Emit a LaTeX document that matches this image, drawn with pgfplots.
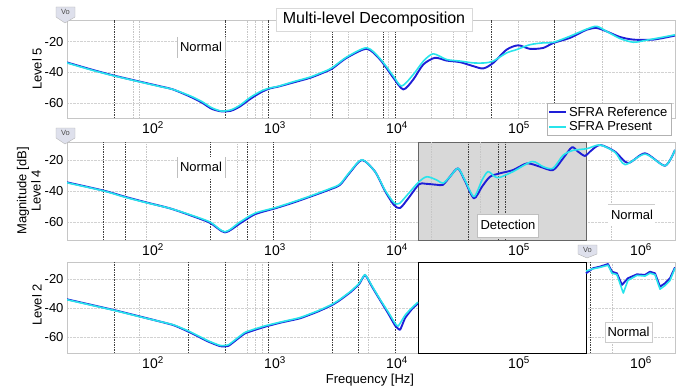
\documentclass[border=0pt]{standalone}
\usepackage{fontspec}
\setmainfont{Liberation Sans}
\usepackage{pgfplots}
\pgfplotsset{compat=1.18}

\definecolor{refblue}{RGB}{30,30,215}
\definecolor{prescyan}{RGB}{40,228,235}
\definecolor{tagfill}{RGB}{222,224,236}
\definecolor{detgray}{RGB}{216,216,216}

\tikzset{
  darkv/.style={black!75, line width=0.5pt, dash pattern=on 1.5pt off 1pt},
  lightv/.style={gray!45, line width=0.5pt, dash pattern=on 1.5pt off 1pt},
}
\newcommand{\vlines}[2]{\pgfplotsinvokeforeach{#2}{\draw[#1] ({axis cs:##1,0}|-{rel axis cs:0,0}) -- ({axis cs:##1,0}|-{rel axis cs:0,1});}}

\pgfplotsset{
  panel/.style={
    scale only axis, width=608pt, xmin=1.295, xmax=6.279,
    xtick={2,3,4,5,6},
    xticklabels={10\textsuperscript{2},10\textsuperscript{3},10\textsuperscript{4},10\textsuperscript{5},10\textsuperscript{6}},
    ytick={-60,-40,-20},
    major tick length=0pt,
    axis line style={gray!45},
    ymajorgrids, grid style={gray!35, densely dotted},
    yticklabel style={font=\fontsize{13}{13}\selectfont},
    xticklabel style={font=\fontsize{14}{14}\selectfont},
    /pgf/number format/assume math mode=true,
    anchor=south west,
  },
  refp/.style={refblue, line width=1.9pt, line join=round, smooth, tension=0.45},
  presp/.style={prescyan, line width=1.6pt, line join=round, smooth, tension=0.45},
}

\begin{document}
\begin{tikzpicture}[x=1pt,y=1pt]
\useasboundingbox (0,0) rectangle (679,389);

% ---------------- Level 5 ----------------
\begin{axis}[panel, at={(67pt,271pt)}, height=98pt, ymin=-69.5, ymax=-6,
  xticklabels={10\textsuperscript{2},10\textsuperscript{3},10\textsuperscript{4},10\textsuperscript{5},{}},
  legend style={at={(0.789,0.153)}, anchor=north west, draw=gray!60, fill=white,
    font=\fontsize{13}{13}\selectfont, inner sep=1.5pt, row sep=0pt, cells={anchor=west}},
  legend image code/.code={\draw[#1, line width=1.6pt] (0pt,0pt) -- (17pt,0pt);}]
\vlines{lightv}{1.836,1.885,2.77,2.836,2.893,3.287,3.6,3.76,3.93,4.284,4.459,4.57,4.992,5.459,5.686,5.984}
\vlines{darkv}{1.68,2.59,2.943,3.467,3.885,3.984,4.77,5.287}
\addplot[refp] coordinates {
(1.295,-33.5) (1.5,-38.2) (1.68,-42) (1.885,-45.8) (2.05,-48.8) (2.164,-51)
(2.3,-55.5) (2.4,-59.5) (2.48,-63.5) (2.56,-65.2) (2.64,-64.8) (2.713,-62)
(2.8,-57) (2.893,-52.5) (2.96,-50.3) (3.025,-49.2) (3.15,-46.5) (3.287,-43.5)
(3.4,-40) (3.467,-37.6) (3.588,-30.5) (3.752,-24.7) (3.861,-31.6) (3.970,-43.4)
(4.052,-51) (4.134,-44.5) (4.216,-34.8) (4.311,-30.5) (4.407,-32.3) (4.516,-33.3)
(4.625,-35.9) (4.707,-37.4) (4.789,-33.8) (4.899,-25.2) (4.994,-22.4) (5.09,-24.7)
(5.199,-24.1) (5.281,-20.9) (5.418,-17.6) (5.555,-12.3) (5.637,-11.2) (5.719,-13.4)
(5.828,-17) (5.937,-18.7) (6.101,-18.7) (6.279,-16.1)};
\addlegendentry{SFRA Reference}
\addplot[presp] coordinates {
(1.295,-33.8) (1.5,-38.5) (1.68,-42.2) (1.885,-46) (2.05,-49) (2.164,-51)
(2.3,-55) (2.4,-58.8) (2.48,-62.8) (2.56,-65) (2.64,-64.2) (2.713,-61.2)
(2.8,-56) (2.893,-51.8) (2.96,-50) (3.025,-49) (3.15,-46) (3.287,-43)
(3.4,-39.5) (3.467,-37) (3.588,-30) (3.752,-24) (3.861,-31) (3.970,-42.3)
(4.039,-48.8) (4.134,-41.3) (4.216,-32.7) (4.297,-27.9) (4.407,-31.6) (4.516,-32.6)
(4.625,-33.8) (4.721,-33.8) (4.789,-32.6) (4.899,-27.3) (4.980,-25.2) (5.09,-22)
(5.199,-20.8) (5.281,-20.5) (5.418,-16.5) (5.555,-11.9) (5.637,-10.1) (5.719,-13.4)
(5.828,-18) (5.937,-20.4) (6.045,-19.1) (6.279,-15.6)};
\addlegendentry{SFRA Present}
\end{axis}

% ---------------- Level 4 ----------------
\begin{axis}[panel, at={(67pt,149pt)}, height=98pt, ymin=-71.6, ymax=-8.4]
\fill[detgray, draw=black!60, line width=0.6pt] ({axis cs:4.175,0}|-{rel axis cs:0,0}) rectangle ({axis cs:5.549,0}|-{rel axis cs:0,1});
\vlines{lightv}{1.943,2.689,2.836,3.287,3.943,4.284,4.686,5.76}
\vlines{darkv}{1.59,1.77,2.467,2.77,2.984,3.984,4.585,4.83,4.89}
\addplot[refp] coordinates {
(1.295,-34.4) (1.598,-39.8) (1.77,-43.7) (1.943,-47.3) (2.139,-51.2) (2.3,-55.5)
(2.467,-60.5) (2.59,-66.7) (2.713,-60.9) (2.836,-55) (3.0,-51.2) (3.15,-47.5)
(3.287,-43.7) (3.45,-39) (3.533,-36) (3.615,-28) (3.713,-20) (3.82,-27.5)
(3.902,-40) (3.975,-49) (4.025,-51) (4.09,-45) (4.180,-35.7) (4.230,-35.3)
(4.328,-36) (4.377,-36) (4.434,-30.8) (4.5,-25.4) (4.557,-33.5) (4.631,-44.7)
(4.697,-37.2) (4.762,-30.8) (4.844,-28.6) (4.951,-26.5) (5.066,-22.2) (5.172,-24.3)
(5.279,-26.5) (5.361,-19) (5.434,-11.8) (5.484,-14.6) (5.541,-17.4) (5.582,-14.6)
(5.664,-10.3) (5.787,-14.6) (5.893,-22) (6.033,-15.7) (6.197,-23.7) (6.279,-13.5)};
\addplot[presp] coordinates {
(1.295,-34.7) (1.598,-40) (1.77,-44) (1.943,-47.5) (2.139,-51.2) (2.3,-55.2)
(2.467,-60) (2.59,-66.3) (2.713,-60) (2.836,-54.3) (3.0,-50.8) (3.15,-47)
(3.287,-43.3) (3.45,-38.5) (3.533,-35.5) (3.615,-27.5) (3.713,-19.8) (3.82,-27.5)
(3.902,-39.5) (3.975,-47.5) (4.02,-48) (4.09,-42) (4.180,-34) (4.246,-30.8)
(4.328,-33) (4.377,-35) (4.434,-30.8) (4.5,-25.4) (4.557,-33) (4.631,-43.6)
(4.697,-33) (4.746,-27.5) (4.803,-30.8) (4.844,-31.2) (4.951,-27.5) (5.107,-21)
(5.197,-24.3) (5.279,-25.4) (5.361,-17) (5.443,-13.8) (5.557,-12.7) (5.664,-10.3)
(5.787,-15) (5.87,-23) (6.033,-16.2) (6.197,-23.7) (6.279,-13.5)};
\end{axis}

% ---------------- Level 2 ----------------
\begin{axis}[panel, at={(67pt,36pt)}, height=91pt, ymin=-71, ymax=-8.3]
\vlines{lightv}{1.885,2.77,2.836,2.893,3.762,5.762}
\vlines{darkv}{1.68,2.287,2.59,2.943,3.467,3.68,3.984,5.582}
\filldraw[fill=white, draw=black, line width=0.7pt] ({axis cs:4.175,0}|-{rel axis cs:0,0}) rectangle ({axis cs:5.549,0}|-{rel axis cs:0,1});
\addplot[refp, tension=0.25] coordinates {
(1.295,-34) (1.68,-41.4) (1.9,-46) (2.164,-51.7) (2.303,-56.8) (2.45,-63)
(2.55,-66.3) (2.62,-66) (2.754,-57.5) (2.918,-52.9) (3.05,-50) (3.205,-47.1)
(3.35,-42.5) (3.467,-38) (3.533,-34.5) (3.62,-29) (3.69,-23.5) (3.738,-17.2)
(3.80,-26) (3.861,-34.5) (3.93,-44) (3.984,-52) (4.025,-55) (4.066,-47)
(4.12,-41) (4.172,-36.8)};
\addplot[presp, tension=0.25] coordinates {
(1.295,-34.3) (1.68,-41.6) (1.9,-46.2) (2.164,-51.5) (2.303,-56.3) (2.45,-62.5)
(2.55,-65.8) (2.62,-65.3) (2.754,-56.8) (2.918,-52.3) (3.05,-49.6) (3.205,-46.6)
(3.35,-42) (3.467,-37.5) (3.533,-34) (3.62,-28.5) (3.69,-23) (3.738,-17)
(3.80,-25.5) (3.861,-34) (3.93,-43) (3.984,-50.5) (4.01,-52.5) (4.066,-45)
(4.12,-40) (4.172,-36)};
\addplot[refblue, line width=1.9pt, line join=round] coordinates {
(5.549,-16.1) (5.607,-12.6) (5.664,-11.5) (5.730,-9.7) (5.762,-15) (5.803,-16.1)
(5.844,-24.1) (5.893,-19.5) (5.967,-16.8) (6.033,-17.2) (6.074,-15) (6.115,-16.1)
(6.156,-25.3) (6.197,-23) (6.238,-19.5) (6.279,-12)};
\addplot[prescyan, line width=1.6pt, line join=round] coordinates {
(5.549,-14.5) (5.607,-13) (5.664,-12) (5.730,-10.5) (5.762,-16) (5.803,-17)
(5.855,-29.7) (5.893,-21) (5.967,-17.5) (6.033,-18) (6.074,-16) (6.115,-17)
(6.156,-27) (6.197,-24.5) (6.238,-21) (6.279,-12.5)};
\end{axis}

% ---------------- annotations ----------------
\tikzset{ann/.style={font=\fontsize{13}{13}\selectfont, inner sep=0pt}}
% title
\filldraw[fill=white, draw=gray!30] (276,381) rectangle (472,358);
\node[font=\fontsize{16}{16}\selectfont, inner sep=0pt] at (374,369.5) {Multi-level Decomposition};
% Vo tags
\filldraw[fill=tagfill, draw=gray!60, line width=0.4pt] (56,382) -- (75,382) -- (75,372) -- (65,366) -- (56,372) -- cycle;
\node[font=\fontsize{7.5}{7.5}\selectfont, text=black!70, inner sep=0pt] at (65.5,377) {Vo};
\filldraw[fill=tagfill, draw=gray!60, line width=0.4pt] (56,261) -- (75,261) -- (75,251) -- (65,245) -- (56,251) -- cycle;
\node[font=\fontsize{7.5}{7.5}\selectfont, text=black!70, inner sep=0pt] at (65.5,256) {Vo};
\filldraw[fill=tagfill, draw=gray!60, line width=0.4pt] (578,144) -- (597,144) -- (597,135) -- (587,131) -- (578,135) -- cycle;
\node[font=\fontsize{7.5}{7.5}\selectfont, text=black!70, inner sep=0pt] at (587.5,139.5) {Vo};
% Normal boxes
\fill[white] (177,352) rectangle (225,331);
\draw[gray!50] (177,352) -- (177,331) (225,352) -- (225,331);
\node[ann] at (201,342) {Normal};
\fill[white] (177,232) rectangle (225,211);
\draw[gray!50] (177,232) -- (177,211) (225,232) -- (225,211);
\node[ann] at (201,222) {Normal};
\fill[white] (608,185) rectangle (655,163);
\draw[gray!40] (608,185) -- (655,185);
\node[ann] at (632,174) {Normal};
\filldraw[fill=white, draw=gray!50] (477,175) rectangle (538,152);
\node[ann] at (508,164) {Detection};
\filldraw[fill=white, draw=gray!40] (605,67) rectangle (652,47);
\node[ann] at (628.5,57) {Normal};
% y labels
\node[ann, rotate=90] at (37,320) {Level 5};
\node[ann, rotate=90] at (23,198) {Magnitude [dB]};
\node[ann, rotate=90] at (36,198) {Level 4};
\node[ann, rotate=90] at (37,84) {Level 2};
% x label
\node[ann] at (370,9) {Frequency [Hz]};
\end{tikzpicture}
\end{document}
